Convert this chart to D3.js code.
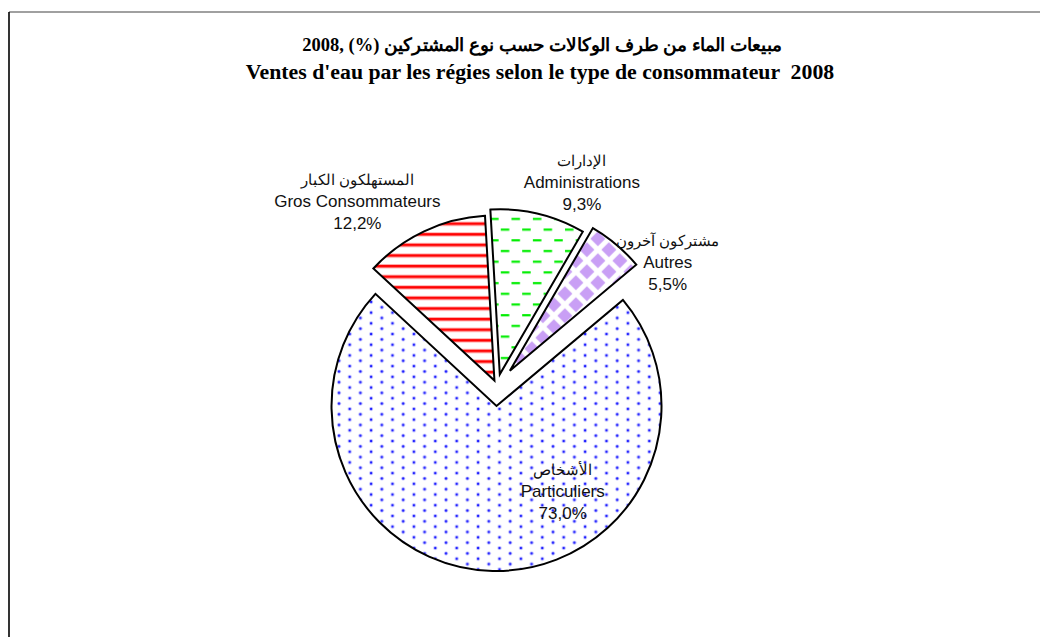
<!DOCTYPE html>
<html lang="fr">
<head>
    <meta charset="UTF-8">
    <title>Ventes d'eau par les régies 2008</title>
    <script src="https://d3js.org/d3.v7.min.js"></script>
    <style>
        body {
            margin: 0;
            padding: 0;
            background: #fff;
            overflow: hidden;
        }
        .title {
            font-family: "Liberation Serif", "Times New Roman", serif;
            font-weight: bold;
            font-size: 20px;
        }
        .lbl text {
            font-family: "Liberation Sans", Arial, sans-serif;
            font-size: 17px;
            fill: #111;
        }
        .slice path {
            stroke: #000;
            stroke-width: 2px;
            stroke-linejoin: miter;
        }
    </style>
</head>
<body>
    <svg id="chart" width="1040" height="637"></svg>
    <script>
        // data (sales share by consumer type, %)
        const namesAr = ["المستهلكون الكبار", "الإدارات", "مشتركون آخرون", "الأشخاص"];
        const namesFr = ["Gros Consommateurs", "Administrations", "Autres", "Particuliers"];
        const values = [12.2, 9.3, 5.5, 73.0];
        const valueLabels = ["12,2%", "9,3%", "5,5%", "73,0%"];

        const titleAr = "مبيعات الماء من طرف الوكالات حسب نوع المشتركين (%) ,2008";
        const titleFr = "Ventes d'eau par les régies selon le type de consommateur  2008";

        // layout settings
        const width = 1040, height = 637;
        const cx = 497, cy = 386, radius = 165;
        const explode = [6, 12, 20, 20];
        // label anchor: angle (deg, clockwise from top) and distance from centre
        const labelAt = [[-37, 232], [22.6, 221], [54, 211], [148, 124]];
        const startDeg = -47.2;

        const svg = d3.select("#chart");
        const defs = svg.append("defs");

        // fill patterns similar to the old Excel ones
        const pRed = defs.append("pattern").attr("id", "pat0")
            .attr("patternUnits", "userSpaceOnUse")
            .attr("width", 10).attr("height", 10.6);
        pRed.append("rect").attr("width", 10).attr("height", 10.6).attr("fill", "#fff");
        pRed.append("rect").attr("y", 0).attr("width", 10).attr("height", 4.4).attr("fill", "#ffb0b0");
        pRed.append("rect").attr("y", 1).attr("width", 10).attr("height", 2.4).attr("fill", "#ff0000");

        const pGreen = defs.append("pattern").attr("id", "pat1")
            .attr("patternUnits", "userSpaceOnUse")
            .attr("width", 21.4).attr("height", 21.4);
        pGreen.append("rect").attr("width", 21.4).attr("height", 21.4).attr("fill", "#fff");
        pGreen.append("rect").attr("x", 1).attr("y", 4).attr("width", 8.5).attr("height", 2.2).attr("fill", "#00ee00");
        pGreen.append("rect").attr("x", 11.7).attr("y", 14.7).attr("width", 8.5).attr("height", 2.2).attr("fill", "#00ee00");

        const pLav = defs.append("pattern").attr("id", "pat2")
            .attr("patternUnits", "userSpaceOnUse")
            .attr("width", 22).attr("height", 22);
        pLav.append("rect").attr("width", 22).attr("height", 22).attr("fill", "#fff");
        const dia = (x, y, h) => `M${x},${y - h}L${x + h},${y}L${x},${y + h}L${x - h},${y}Z`;
        pLav.append("path")
            .attr("d", [dia(11, 11, 7.5), dia(0, 0, 7.5), dia(22, 0, 7.5), dia(0, 22, 7.5), dia(22, 22, 7.5)].join(""))
            .attr("fill", "#c99ff5");

        const pBlue = defs.append("pattern").attr("id", "pat3")
            .attr("patternUnits", "userSpaceOnUse")
            .attr("width", 21.4).attr("height", 10.7);
        pBlue.append("rect").attr("width", 21.4).attr("height", 10.7).attr("fill", "#fff");
        [[3, 3], [13.7, 8.35]].forEach(([x, y]) => {
            pBlue.append("circle").attr("cx", x).attr("cy", y).attr("r", 2.1).attr("fill", "#c4c4ff");
            pBlue.append("circle").attr("cx", x).attr("cy", y).attr("r", 1.2).attr("fill", "#2020ff");
        });

        // frame (only top and left edges show in the crop)
        svg.append("line").attr("x1", 9).attr("y1", 12).attr("x2", width).attr("y2", 12)
            .attr("stroke", "#808080").attr("stroke-width", 1.6);
        svg.append("line").attr("x1", 9).attr("y1", 12).attr("x2", 9).attr("y2", height)
            .attr("stroke", "#000").attr("stroke-width", 1.6);

        // title (the original is a bit stretched sideways)
        svg.append("text").attr("class", "title")
            .attr("transform", "translate(542,51) scale(1.03,1)")
            .attr("text-anchor", "middle")
            .attr("direction", "rtl")
            .attr("unicode-bidi", "embed")
            .style("font-size", "18px")
            .text(titleAr);
        svg.append("text").attr("class", "title")
            .attr("transform", "translate(540,79) scale(1.09,1)")
            .attr("text-anchor", "middle")
            .attr("xml:space", "preserve")
            .style("white-space", "pre")
            .text(titleFr);

        const rad = d => d * Math.PI / 180;
        const pie = d3.pie().sort(null).value(d => d)
            .startAngle(rad(startDeg)).endAngle(rad(startDeg) + 2 * Math.PI);
        const arc = d3.arc().innerRadius(0).outerRadius(radius);
        const arcs = pie(values);

        const g = svg.append("g").attr("transform", `translate(${cx},${cy})`);

        g.selectAll("g.slice")
            .data(arcs)
            .join("g")
            .attr("class", "slice")
            .attr("transform", (d, i) => {
                const mid = (d.startAngle + d.endAngle) / 2;
                return `translate(${explode[i] * Math.sin(mid)},${-explode[i] * Math.cos(mid)})`;
            })
            .append("path")
            .attr("d", arc)
            .attr("fill", (d, i) => `url(#pat${i})`);

        // labels: arabic name, french name, share
        const lbl = g.selectAll("g.lbl")
            .data(arcs)
            .join("g")
            .attr("class", "lbl")
            .attr("transform", (d, i) => {
                const a = rad(labelAt[i][0]), r = labelAt[i][1];
                return `translate(${r * Math.sin(a)},${-r * Math.cos(a)})`;
            });

        lbl.append("text").attr("text-anchor", "middle").attr("y", -16)
            .attr("direction", "rtl").attr("unicode-bidi", "embed")
            .style("font-size", "15px")
            .text((d, i) => namesAr[i]);
        lbl.append("text").attr("text-anchor", "middle").attr("y", 6)
            .text((d, i) => namesFr[i]);
        lbl.append("text").attr("text-anchor", "middle").attr("y", 28)
            .text((d, i) => valueLabels[i]);
    </script>
</body>
</html>
